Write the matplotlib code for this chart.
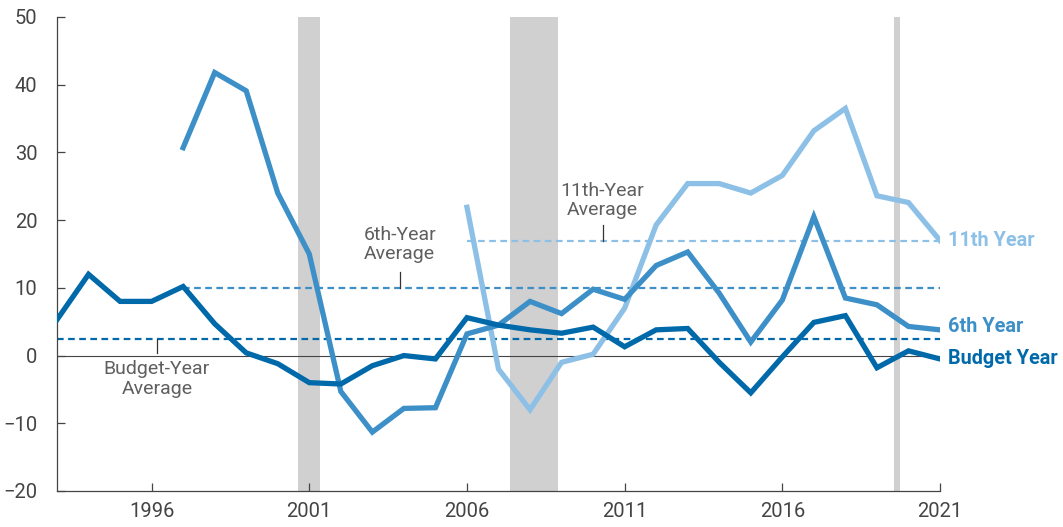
import numpy as np
import matplotlib.pyplot as plt

plt.rcParams['font.family'] = ['Roboto', 'DejaVu Sans']

years = np.arange(1993, 2022)
budget_year = [5.3, 12.0, 8.0, 8.0, 10.2, 4.7, 0.4, -1.2, -4.0, -4.2, -1.5, 0.0, -0.5,
               5.6, 4.5, 3.8, 3.3, 4.2, 1.3, 3.8, 4.0, -1.0, -5.5, -0.2, 4.9, 5.9, -1.8, 0.7, -0.5]
sixth_years = np.arange(1997, 2022)
sixth_year = [30.7, 41.8, 39.1, 24.0, 15.0, -5.3, -11.3, -7.8, -7.7, 3.2, 4.5, 8.0, 6.2,
              9.8, 8.3, 13.3, 15.3, 9.2, 2.0, 8.2, 20.5, 8.5, 7.5, 4.3, 3.8]
eleventh_years = np.arange(2006, 2022)
eleventh_year = [21.9, -2.0, -8.0, -1.0, 0.2, 7.0, 19.3, 25.4, 25.4, 24.0, 26.6, 33.2,
                 36.5, 23.6, 22.6, 17.0]

avg_budget = 2.4
avg_sixth = 10.0
avg_eleventh = 16.9

recessions = [(2000.63, 2001.33), (2007.38, 2008.9), (2019.53, 2019.72)]

c_budget = '#0069aa'
c_sixth = '#3d8fc8'
c_eleventh = '#8dc0e6'
c_text = '#5f5f5f'

fig = plt.figure(figsize=(10.63, 5.27), dpi=100)
ax = fig.add_axes([57/1063, 1 - 491/527, (940-57)/1063, (491-17)/527])

for a, b in recessions:
    ax.axvspan(a, b, color='#d0d0d0', lw=0, zorder=0)

ax.axhline(0, color='#444444', lw=0.8, zorder=1)

# averages
ax.hlines(avg_budget, 1993, 2021, colors=c_budget, linestyles=(0, (3, 2)), lw=1.6, zorder=2)
ax.hlines(avg_sixth, 1997, 2021, colors=c_sixth, linestyles=(0, (3, 2)), lw=1.6, zorder=2)
ax.hlines(avg_eleventh, 2006, 2021, colors=c_eleventh, linestyles=(0, (3, 2)), lw=1.6, zorder=2)

ax.plot(eleventh_years, eleventh_year, color=c_eleventh, lw=3.8, zorder=3, solid_joinstyle='miter')
ax.plot(sixth_years, sixth_year, color=c_sixth, lw=3.8, zorder=4, solid_joinstyle='miter')
ax.plot(years, budget_year, color=c_budget, lw=3.8, zorder=5, solid_joinstyle='miter')

# average labels with leader ticks
ax.plot([1996.17, 1996.17], [avg_budget, 0.4], color='#333333', lw=0.9, zorder=6)
ax.text(1996.17, -0.7, 'Budget-Year\nAverage', ha='center', va='top', fontsize=14,
        color=c_text, linespacing=1.1)
ax.plot([2003.87, 2003.87], [avg_sixth, 12.4], color='#333333', lw=0.9, zorder=6)
ax.text(2003.87, 13.6, '6th-Year\nAverage', ha='center', va='bottom', fontsize=14,
        color=c_text, linespacing=1.1)
ax.plot([2010.3, 2010.3], [avg_eleventh, 19.3], color='#333333', lw=0.9, zorder=6)
ax.text(2010.3, 20.1, '11th-Year\nAverage', ha='center', va='bottom', fontsize=14,
        color=c_text, linespacing=1.1)

# series labels
ax.text(2021.25, eleventh_year[-1], '11th Year', color=c_eleventh, fontsize=14.3,
        fontweight='bold', va='center', ha='left', clip_on=False)
ax.text(2021.25, 4.3, '6th Year', color=c_sixth, fontsize=14.3,
        fontweight='bold', va='center', ha='left', clip_on=False)
ax.text(2021.25, -0.4, 'Budget Year', color=c_budget, fontsize=14.3,
        fontweight='bold', va='center', ha='left', clip_on=False)

ax.set_xlim(1993, 2021)
ax.set_ylim(-20, 50)
ax.set_xticks([1996, 2001, 2006, 2011, 2016, 2021])
ax.set_yticks(np.arange(-20, 51, 10))
ax.set_yticklabels(['\u221220', '\u221210', '0', '10', '20', '30', '40', '50'])
ax.tick_params(direction='in', length=6, width=0.9, color='#444444', labelsize=14.5,
               labelcolor='#444444')
ax.tick_params(axis='y', pad=14)
ax.tick_params(axis='x', pad=8)
for s in ['top', 'right']:
    ax.spines[s].set_visible(False)
for s in ['left', 'bottom']:
    ax.spines[s].set_color('#444444')
    ax.spines[s].set_linewidth(0.9)

fig.savefig('out.png', dpi=100)
